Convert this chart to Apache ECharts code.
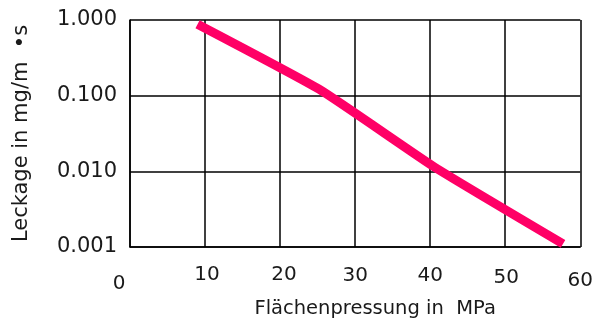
<!DOCTYPE html>
<html>
<head>
<meta charset="utf-8">
<script src="https://cdn.jsdelivr.net/npm/echarts@6/dist/echarts.min.js"></script>
<style>
  html, body { margin: 0; padding: 0; background: #fff; }
  #chart { width: 596px; height: 324px; }
</style>
</head>
<body>
<div id="chart"></div>
<script>
// Leakage rate vs. surface pressure (log scale)
const pressure = [9.0, 25.3, 40.5, 57.7];          // MPa
const leakage  = [0.88, 0.12, 0.0115, 0.0011];     // mg/m·s
const xTicks = [0, 10, 20, 30, 40, 50, 60];
const yTicks = ['0.001', '0.010', '0.100', '1.000'];

const FONT = 'DejaVu Sans';

// per-label nudges for the x axis tick labels
const xLabelStyle = {
  0:  { padding: [9, 22, 0, 0] },
  10: { padding: [0, 0, 0, 4] },
  20: { padding: [0, 0, 0, 8] },
  30: { padding: [1, 0, 0, 0] },
  40: { padding: [1, 0, 0, 0] },
  50: { padding: [3, 0, 0, 2] },
  60: { padding: [6, 0, 0, 0] }
};
const rich = {};
xTicks.forEach(t => {
  rich['t' + t] = Object.assign({ fontFamily: FONT, fontSize: 20, color: '#1a1a1a' }, xLabelStyle[t]);
});

const chart = echarts.init(document.getElementById('chart'), null, { renderer: 'canvas' });
chart.setOption({
  animation: false,
  backgroundColor: '#fff',
  grid: { left: 130, right: 15, top: 20, bottom: 76, containLabel: false },
  xAxis: {
    type: 'value',
    min: xTicks[0],
    max: xTicks[xTicks.length - 1],
    interval: 10,
    name: 'Flächenpressung in  MPa',
    nameLocation: 'middle',
    nameGap: 52,
    nameTextStyle: { fontFamily: FONT, fontSize: 19.5, color: '#1a1a1a', padding: [0, 0, 0, 40] },
    axisLine: { show: true, lineStyle: { color: '#000', width: 1.5 } },
    axisTick: { show: false },
    axisLabel: {
      margin: 18,
      formatter: v => '{t' + v + '|' + v + '}',
      rich: rich
    },
    splitLine: { show: true, lineStyle: { color: '#000', width: 1.5 } }
  },
  yAxis: {
    type: 'log',
    logBase: 10,
    min: Number(yTicks[0]),
    max: Number(yTicks[yTicks.length - 1]),
    name: 'Leckage in mg/m  •s',
    nameLocation: 'middle',
    nameGap: 98,
    nameTextStyle: { fontFamily: FONT, fontSize: 21, color: '#1a1a1a' },
    axisLine: { show: true, lineStyle: { color: '#000', width: 1.5 } },
    axisTick: { show: false },
    axisLabel: {
      margin: 13,
      fontFamily: FONT,
      fontSize: 21,
      color: '#1a1a1a',
      padding: [3, 0, 0, 0],
      formatter: v => Number(v).toFixed(3)
    },
    splitLine: { show: true, lineStyle: { color: '#000', width: 1.5 } }
  },
  series: [{
    type: 'line',
    data: pressure.map((p, i) => [p, leakage[i]]),
    showSymbol: false,
    smooth: 0.15,
    lineStyle: { color: '#ff0066', width: 9, cap: 'butt', join: 'round' },
    z: 5
  }]
});
</script>
</body>
</html>
